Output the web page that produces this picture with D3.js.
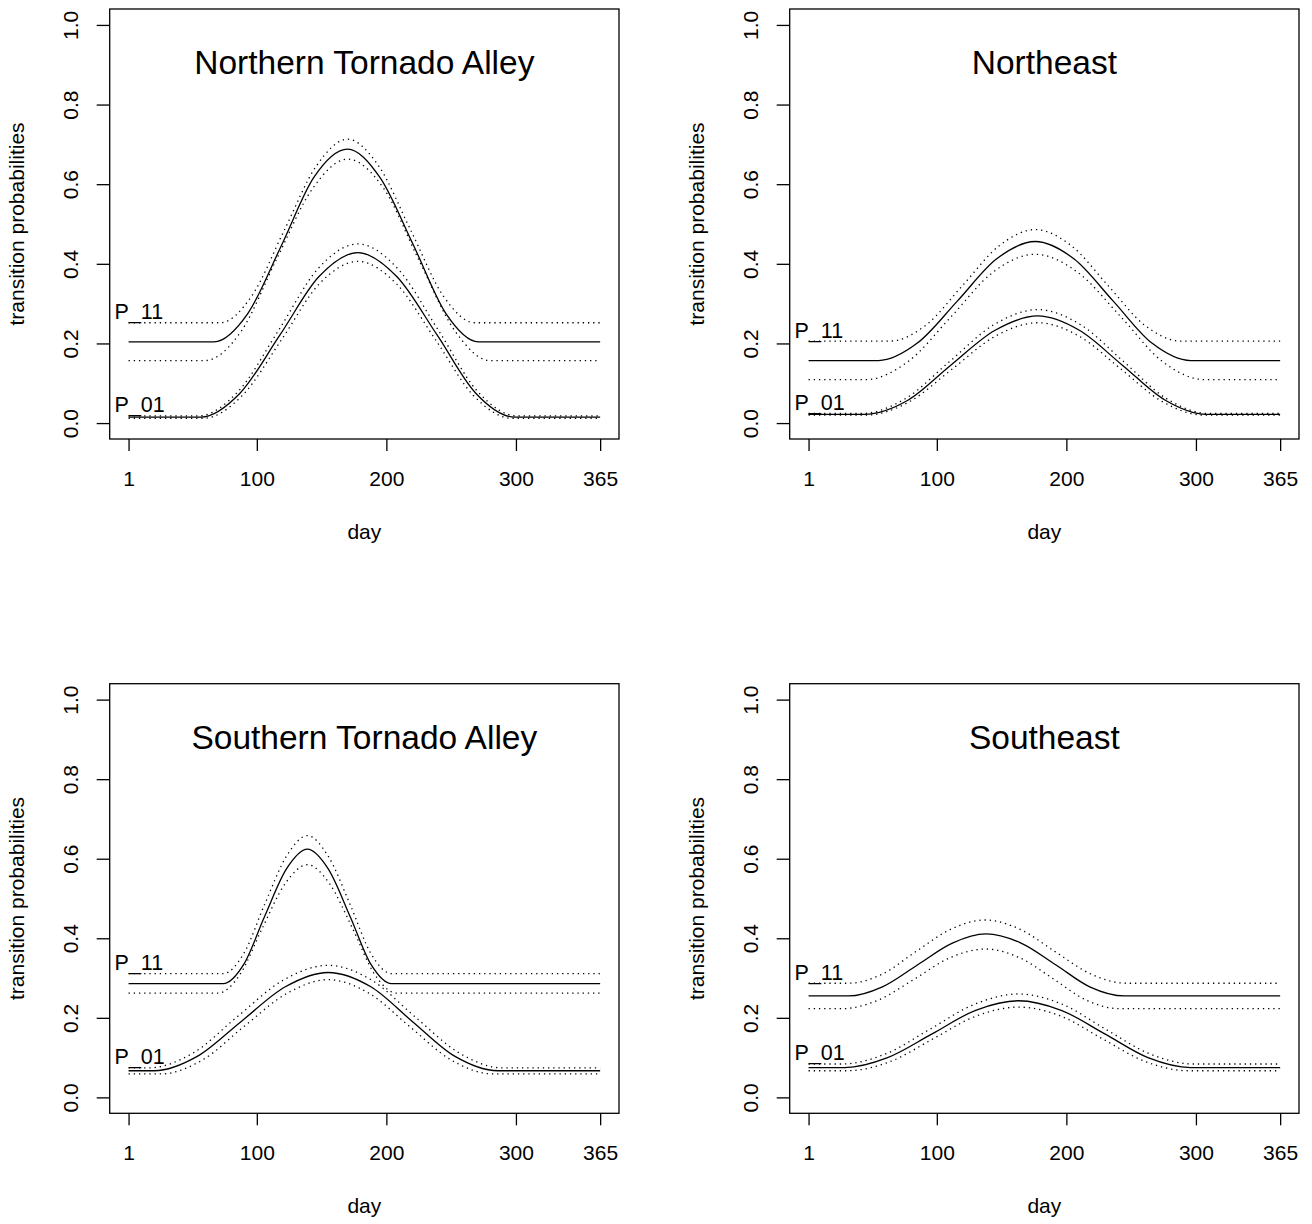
<!DOCTYPE html>
<html><head><meta charset="utf-8">
<script src="https://cdn.jsdelivr.net/npm/d3@7"></script>
<style>
body{margin:0;background:#fff;}
text{font-family:"Liberation Sans", Arial, Helvetica, sans-serif;fill:#000;}
</style></head><body>
<svg id="chart" width="1312" height="1224" style="display:block;background:#fff"></svg>
<script>
// ---------- data ----------
const panelTitles = ["Northern Tornado Alley", "Northeast", "Southern Tornado Alley", "Southeast"];
const xTicks = [1, 100, 200, 300, 365];
const yTicks = [0, 0.2, 0.4, 0.6, 0.8, 1.0];
const seriesLabels = ["P_11", "P_01"];
const xLabel = "day";
const yLabel = "transition probabilities";

// Northern Tornado Alley  [day, probability]
const ntaP11   = [[1,.204],[67,.204],[93,.275],[119,.446],[144,.617],[170,.688],[195,.617],[221,.446],[246,.275],[271,.204],[365,.204]];
const ntaP11Hi = [[1,.252],[72,.252],[96,.319],[121,.483],[146,.646],[170,.713],[194,.646],[219,.483],[244,.319],[268,.252],[365,.252]];
const ntaP11Lo = [[1,.157],[60,.157],[88,.231],[115,.410],[143,.589],[170,.663],[198,.589],[225,.410],[253,.231],[280,.157],[365,.157]];
const ntaP01   = [[1,.015],[57,.015],[87,.075],[118,.222],[148,.368],[178,.428],[208,.368],[239,.222],[269,.075],[299,.015],[365,.015]];
const ntaP01Hi = [[1,.018],[55,.018],[86,.081],[117,.234],[147,.387],[178,.450],[209,.387],[240,.234],[270,.081],[301,.018],[365,.018]];
const ntaP01Lo = [[1,.012],[59,.012],[89,.070],[119,.209],[148,.349],[178,.406],[208,.349],[238,.209],[267,.070],[297,.012],[365,.012]];

// Northeast
const neP11   = [[1,.157],[55,.157],[85,.201],[116,.307],[146,.412],[176,.456],[206,.412],[236,.307],[266,.201],[296,.157],[365,.157]];
const neP11Hi = [[1,.206],[64,.206],[92,.247],[120,.346],[148,.445],[176,.486],[204,.445],[232,.346],[260,.247],[288,.206],[365,.206]];
const neP11Lo = [[1,.109],[45,.109],[78,.155],[111,.267],[143,.378],[176,.424],[209,.378],[242,.267],[274,.155],[307,.109],[365,.109]];
const neP01   = [[1,.022],[44,.022],[78,.058],[111,.146],[145,.233],[178,.269],[210,.233],[243,.146],[276,.058],[308,.022],[365,.022]];
const neP01Hi = [[1,.024],[42,.024],[76,.062],[110,.155],[144,.247],[178,.285],[211,.247],[244,.155],[277,.062],[310,.024],[365,.024]];
const neP01Lo = [[1,.020],[46,.020],[79,.054],[112,.136],[145,.218],[178,.252],[210,.218],[242,.136],[274,.054],[306,.020],[365,.020]];

// Southern Tornado Alley
const staP11   = [[1,.286],[74,.286],[90,.335],[106,.455],[123,.575],[139,.624],[155,.575],[172,.455],[188,.335],[204,.286],[365,.286]];
const staP11Hi = [[1,.311],[74,.311],[90,.362],[106,.485],[123,.607],[139,.658],[155,.607],[172,.485],[188,.362],[204,.311],[365,.311]];
const staP11Lo = [[1,.262],[70,.262],[87,.309],[104,.424],[122,.538],[139,.585],[156,.538],[174,.424],[191,.309],[208,.262],[365,.262]];
const staP01   = [[1,.067],[21,.067],[54,.103],[88,.191],[122,.278],[155,.314],[188,.278],[220,.191],[253,.103],[286,.067],[365,.067]];
const staP01Hi = [[1,.074],[16,.074],[51,.112],[85,.203],[120,.294],[155,.332],[189,.294],[222,.203],[256,.112],[290,.074],[365,.074]];
const staP01Lo = [[1,.059],[26,.059],[58,.094],[90,.178],[123,.261],[155,.296],[187,.261],[218,.178],[250,.094],[282,.059],[365,.059]];

// Southeast
const seP11   = [[1,.255],[32,.255],[58,.278],[85,.333],[112,.388],[138,.411],[165,.388],[192,.333],[218,.278],[245,.255],[365,.255]];
const seP11Hi = [[1,.287],[32,.287],[58,.310],[84,.367],[111,.423],[137,.446],[164,.423],[191,.367],[219,.310],[246,.287],[365,.287]];
const seP11Lo = [[1,.223],[27,.223],[55,.245],[83,.298],[110,.351],[138,.373],[164,.351],[190,.298],[215,.245],[241,.223],[365,.223]];
const seP01   = [[1,.075],[29,.075],[62,.100],[96,.159],[130,.219],[163,.243],[196,.219],[230,.159],[263,.100],[296,.075],[365,.075]];
const seP01Hi = [[1,.084],[27,.084],[61,.110],[95,.172],[129,.234],[163,.260],[197,.234],[230,.172],[264,.110],[298,.084],[365,.084]];
const seP01Lo = [[1,.067],[31,.067],[64,.090],[97,.147],[130,.204],[163,.227],[196,.204],[228,.147],[261,.090],[294,.067],[365,.067]];

const panelP11 = [[ntaP11, ntaP11Hi, ntaP11Lo], [neP11, neP11Hi, neP11Lo], [staP11, staP11Hi, staP11Lo], [seP11, seP11Hi, seP11Lo]];
const panelP01 = [[ntaP01, ntaP01Hi, ntaP01Lo], [neP01, neP01Hi, neP01Lo], [staP01, staP01Hi, staP01Lo], [seP01, seP01Hi, seP01Lo]];

// ---------- layout ----------
const svg = d3.select("#chart");
const colLeft = [109.7, 789.7];
const boxW = 509.3;
const rowTop = [9, 683.7];
const rowBottom = [439, 1113.3];
const axisFont = "21px";
const labelFont = "21.5px";
const titleFont = "33.5px";
const lw = 1.3;

panelTitles.forEach((title, i) => {
  const col = i % 2, row = Math.floor(i / 2);
  const L = colLeft[col], R = L + boxW, T = rowTop[row], B = rowBottom[row];
  const x = d3.scaleLinear().domain([1 - 0.04 * 364, 365 + 0.04 * 364]).range([L, R]);
  const y = d3.scaleLinear().domain([-0.04, 1.04]).range([B, T]);
  const g = svg.append("g");

  // y axis
  const ya = g.append("g").attr("transform", `translate(${L},0)`)
    .call(d3.axisLeft(y).tickValues(yTicks).tickSize(13).tickSizeOuter(0).tickFormat(d3.format(".1f")));
  ya.select(".domain").remove();
  ya.selectAll(".tick line").attr("stroke", "#000").attr("stroke-width", lw);
  ya.selectAll(".tick text").attr("x", null).attr("dy", null)
    .attr("transform", "translate(-32,0) rotate(-90)")
    .attr("text-anchor", "middle").style("font-size", axisFont);

  // x axis
  const xa = g.append("g").attr("transform", `translate(0,${B})`)
    .call(d3.axisBottom(x).tickValues(xTicks).tickSize(12).tickSizeOuter(0).tickFormat(d3.format("d")));
  xa.select(".domain").remove();
  xa.selectAll(".tick line").attr("stroke", "#000").attr("stroke-width", lw);
  xa.selectAll(".tick text").attr("y", 47).attr("dy", null)
    .attr("text-anchor", "middle").style("font-size", axisFont);

  // box
  g.append("rect").attr("x", L).attr("y", T).attr("width", R - L).attr("height", B - T)
    .attr("fill", "none").attr("stroke", "#000").attr("stroke-width", lw);

  // axis titles
  g.append("text").attr("x", x(183)).attr("y", B + 100).attr("text-anchor", "middle")
    .style("font-size", axisFont).text(xLabel);
  g.append("text").attr("transform", `translate(${L - 85.7},${y(0.5)}) rotate(-90)`)
    .attr("text-anchor", "middle").style("font-size", axisFont).text(yLabel);

  // panel title
  g.append("text").attr("x", x(183)).attr("y", y(0.9) + 9.5).attr("text-anchor", "middle")
    .style("font-size", titleFont).text(title);

  // curves
  const line = d3.line().x(d => x(d[0])).y(d => y(d[1])).curve(d3.curveMonotoneX);
  [panelP11[i], panelP01[i]].forEach((grp, k) => {
    grp.forEach((s, j) => {
      g.append("path").datum(s).attr("d", line).attr("fill", "none")
        .attr("stroke", "#000").attr("stroke-width", lw)
        .attr("stroke-dasharray", j === 0 ? null : "1.3 3.9");
    });
    g.append("text").attr("x", x(1) - 14).attr("y", y(grp[1][0][1]) - 3.5)
      .style("font-size", labelFont).text(seriesLabels[k]);
  });
});
</script>
</body></html>
